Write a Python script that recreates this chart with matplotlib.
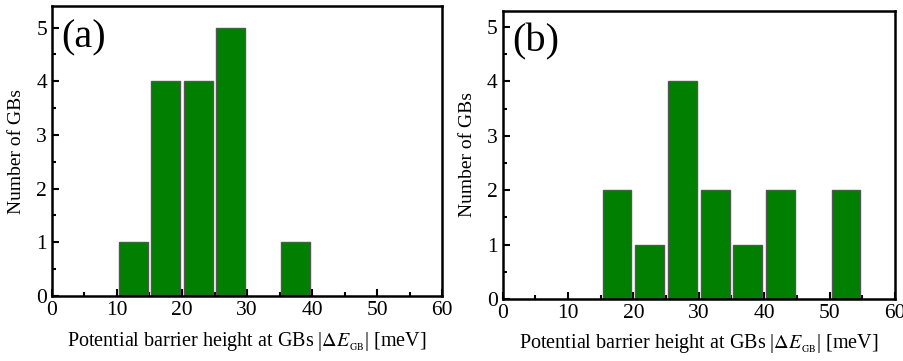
import numpy as np
import matplotlib
matplotlib.use('Agg')
import matplotlib.pyplot as plt
from matplotlib.ticker import MultipleLocator

plt.rcParams['font.family'] = ['Liberation Serif', 'DejaVu Serif']
plt.rcParams['mathtext.fontset'] = 'stix'

# histogram bin centres (meV) and counts
centers_a = [12.5, 17.5, 22.5, 27.5, 37.5]
counts_a = [1, 4, 4, 5, 1]
centers_b = [17.5, 22.5, 27.5, 32.5, 37.5, 42.5, 52.5]
counts_b = [2, 1, 4, 2, 1, 2, 2]

xlabel = r'Potential barrier height at GBs |$\Delta E_{_{\mathrm{GB}}}$| [meV]'


def draw(ax, centers, counts, tag, ytop):
    ax.bar(centers, counts, width=4.4, color='#007f00', edgecolor='#555555', linewidth=1.0, zorder=2)
    ax.set_xlim(0, 60)
    ax.set_ylim(0, ytop)
    ax.xaxis.set_major_locator(MultipleLocator(10))
    ax.xaxis.set_minor_locator(MultipleLocator(5))
    ax.yaxis.set_major_locator(MultipleLocator(1))
    ax.yaxis.set_minor_locator(MultipleLocator(0.5))
    ax.tick_params(which='both', direction='in', labelsize=15.5, width=1.5)
    ax.tick_params(which='major', length=5)
    ax.tick_params(which='minor', length=3)
    for s in ax.spines.values():
        s.set_linewidth(1.8)
    ax.set_xlabel(xlabel, fontsize=14.5, labelpad=7)
    ax.set_ylabel('Number of GBs', fontsize=14, labelpad=8)
    ax.text(0.025, 0.955, tag, transform=ax.transAxes, fontsize=29, va='top', ha='left')


fig = plt.figure(figsize=(9.04, 3.61), dpi=100)
ax1 = fig.add_axes([0.0575, 0.180, 0.4315, 0.803])
ax2 = fig.add_axes([0.556, 0.172, 0.434, 0.798])
draw(ax1, centers_a, counts_a, '(a)', 5.4)
draw(ax2, centers_b, counts_b, '(b)', 5.3)

fig.savefig('out.png', dpi=100)
